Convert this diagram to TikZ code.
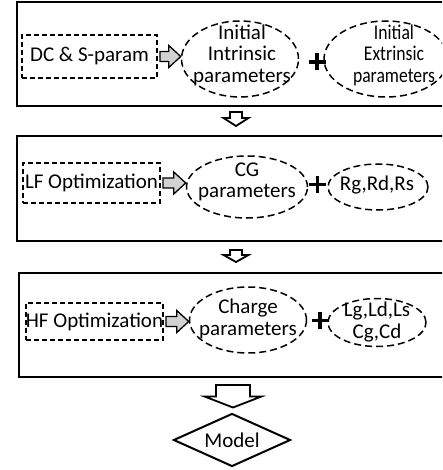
\documentclass[tikz,border=0pt]{standalone}
\usepackage{fontspec}
\setmainfont{Carlito}
\usetikzlibrary{shapes.geometric,calc}
\newcommand\hollowdown[8]{%
  \draw[hollowa] let \p1=(#1.south), \p2=(#2.north) in
    (#3pt-#6pt,\y1-#4pt) -- (#3pt+#6pt,\y1-#4pt) -- (#3pt+#6pt,\y2+#5pt+#8pt)
    -- (#3pt+#7pt,\y2+#5pt+#8pt) -- (#3pt,\y2+#5pt) -- (#3pt-#7pt,\y2+#5pt+#8pt)
    -- (#3pt-#6pt,\y2+#5pt+#8pt) -- cycle;}
\newcommand\grayright[2]{%
  \draw[graya] let \p1=(#1.east), \p2=(#2.west) in
    (\x1+2pt,\y1+5pt) -- (\x2-12pt,\y1+5pt) -- (\x2-12pt,\y1+11pt) -- (\x2,\y1)
    -- (\x2-12pt,\y1-11pt) -- (\x2-12pt,\y1-5pt) -- (\x1+2pt,\y1-5pt) -- cycle;}
\newcommand\plusat[1]{%
  \draw[plussign] ($(#1)+(-8.5,0)$) -- ($(#1)+(8.5,0)$) ($(#1)+(0,-8.5)$) -- ($(#1)+(0,8.5)$);}
\begin{document}
\begin{tikzpicture}[x=1pt,y=-1pt,
  bigbox/.style={draw, line width=2pt, rectangle, anchor=north west, inner sep=0, minimum width=470},
  dbox/.style={draw, line width=1.8pt, dash pattern=on 5pt off 3pt, rectangle, inner sep=0,
    font=\fontsize{21}{22}\selectfont},
  dell/.style={draw, line width=1.5pt, dash pattern=on 7pt off 4pt, ellipse, inner sep=0},
  ptext/.style={align=center, inner sep=0, font=\fontsize{21}{21.5}\selectfont},
  graya/.style={draw, line width=1.3pt, fill=gray!35, line join=miter},
  hollowa/.style={draw, line width=1.8pt, fill=white, line join=miter},
  plussign/.style={line width=3.4pt},
  diam/.style={draw, line width=2pt, diamond, aspect=2.2, inner sep=0,
    minimum width=117, minimum height=53, font=\fontsize{21}{22}\selectfont},
]
\path[use as bounding box] (0,0) rectangle (442,470);
\clip (0,0) rectangle (442,470);

% big frames
\node[bigbox, minimum height=103.5] (box1) at (16,1.5) {};
\node[bigbox, minimum height=105] (box2) at (16,135) {};
\node[bigbox, minimum height=104] (box3) at (18,272) {};

% row 1
\node[dbox, minimum width=135, minimum height=43] (dc) at (89.5,56.5) {DC \& S-param};
\node[dell, minimum width=117, minimum height=76] (e1) at (240,59) {};
\node[ptext] (e1t) at (242,55) {Initial\\Intrinsic\\parameters};
\node[dell, minimum width=124, minimum height=76] (e2) at (386,59) {};
\node[ptext, transform shape, xscale=0.84] (e2t) at (394,55) {Initial\\Extrinsic\\parameters};
\coordinate (p1) at (317,62);
\grayright{dc}{e1}
\plusat{p1}

% row 2
\node[dbox, minimum width=137, minimum height=40] (lf) at (91.5,183) {LF Optimization};
\node[dell, minimum width=121, minimum height=62] (e3) at (247,187) {};
\node[ptext] (e3t) at (247,182) {CG\\parameters};
\node[dell, minimum width=100, minimum height=46] (e4) at (378,187) {};
\node[ptext] (e4t) at (377,185) {Rg,Rd,Rs};
\coordinate (p2) at (317.5,184.5);
\grayright{lf}{e3}
\plusat{p2}

% row 3
\node[dbox, minimum width=137, minimum height=37] (hf) at (94.5,321.5) {HF Optimization};
\node[dell, minimum width=117, minimum height=66] (e5) at (248,320) {};
\node[ptext] (e5t) at (248,319) {Charge\\parameters};
\node[dell, minimum width=98, minimum height=48] (e6) at (377,322.5) {};
\node[ptext] (e6t) at (377,322) {Lg,Ld,Ls\\Cg,Cd};
\coordinate (p3) at (320,320.5);
\grayright{hf}{e5}
\plusat{p3}

% model
\node[diam] (model) at (232,440) {Model};

% down arrows
\hollowdown{box1}{box2}{236}{5}{9}{6}{12.5}{8}
\hollowdown{box2}{box3}{236}{8}{10}{6}{12.5}{7}
\hollowdown{box3}{model}{233}{7}{5}{17}{28.5}{11}
\end{tikzpicture}
\end{document}
